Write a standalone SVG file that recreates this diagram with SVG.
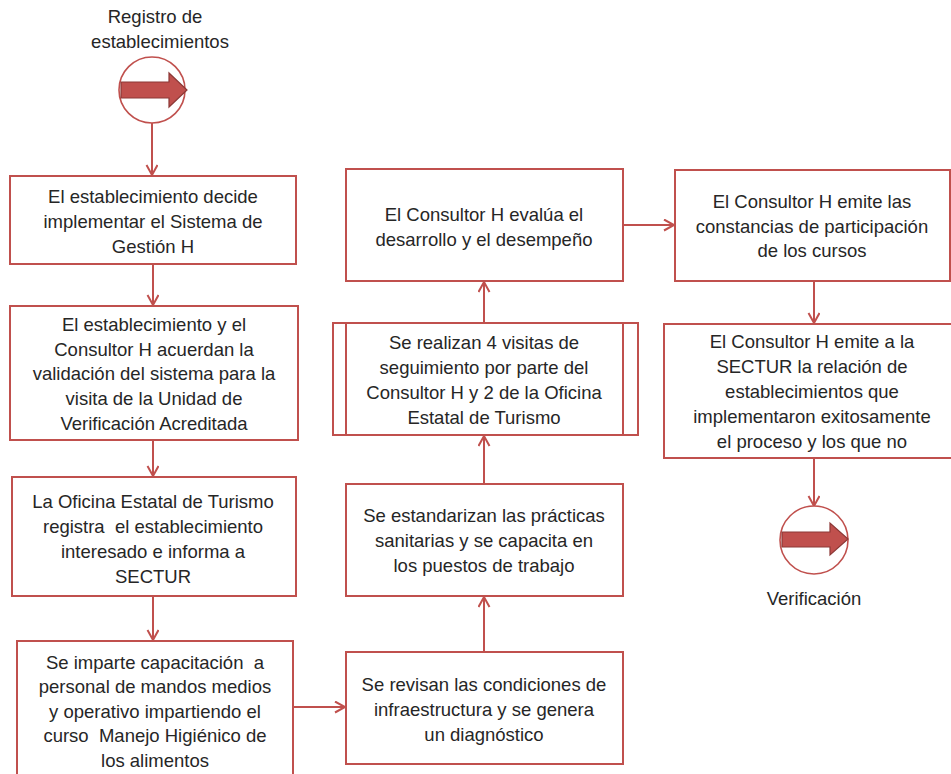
<svg xmlns="http://www.w3.org/2000/svg" width="951" height="774" viewBox="0 0 951 774">
<defs>
<style>
.box{fill:#fff;stroke:#C0504D;stroke-width:2}
.circ{fill:#fff;stroke:#C0504D;stroke-width:1.6}
.blk{fill:#C0504D;stroke:#8C3836;stroke-width:1.2}
.ln{fill:none;stroke:#C0504D;stroke-width:2}
text{font-family:"Liberation Sans",Arial,sans-serif;font-size:18.5px;fill:#262626;text-anchor:middle;white-space:pre}
</style>
<marker id="ah" markerWidth="14" markerHeight="14" refX="11" refY="6" orient="auto" markerUnits="userSpaceOnUse">
<path d="M1,0.5 L11,6 L1,11.5" fill="none" stroke="#C0504D" stroke-width="2"/>
</marker>
</defs>
<rect width="951" height="774" fill="#fff"/>

<g id="connectors">
<line class="ln" x1="152" y1="123" x2="152" y2="175" marker-end="url(#ah)"/>
<line class="ln" x1="153" y1="264" x2="153" y2="305" marker-end="url(#ah)"/>
<line class="ln" x1="153" y1="440" x2="153" y2="476" marker-end="url(#ah)"/>
<line class="ln" x1="153" y1="596" x2="153" y2="640" marker-end="url(#ah)"/>
<line class="ln" x1="293" y1="707" x2="345" y2="707" marker-end="url(#ah)"/>
<line class="ln" x1="484" y1="652" x2="484" y2="597" marker-end="url(#ah)"/>
<line class="ln" x1="484" y1="484" x2="484" y2="436" marker-end="url(#ah)"/>
<line class="ln" x1="484" y1="323" x2="484" y2="282" marker-end="url(#ah)"/>
<line class="ln" x1="623" y1="225" x2="674" y2="225" marker-end="url(#ah)"/>
<line class="ln" x1="814" y1="281" x2="814" y2="323" marker-end="url(#ah)"/>
<line class="ln" x1="814" y1="458" x2="814" y2="506" marker-end="url(#ah)"/>
</g>

<g id="start">
<text x="155" y="23">Registro de</text>
<text x="160" y="48">establecimientos</text>
<circle class="circ" cx="152" cy="90" r="33"/>
<path class="blk" d="M121,82 L169,82 L169,73 L187,90 L169,107 L169,98 L121,98 Z"/>
</g>

<g id="n1">
<rect class="box" x="10" y="176" width="286" height="88"/>
<text x="153" y="203">El establecimiento decide</text>
<text x="153" y="228">implementar el Sistema de</text>
<text x="153" y="253">Gestión H</text>
</g>

<g id="n2">
<rect class="box" x="10" y="306" width="288" height="134"/>
<text x="154" y="331">El establecimiento y el</text>
<text x="154" y="356">Consultor H acuerdan la</text>
<text x="154" y="380">validación del sistema para la</text>
<text x="154" y="405">visita de la Unidad de</text>
<text x="154" y="430">Verificación Acreditada</text>
</g>

<g id="n3">
<rect class="box" x="12" y="477" width="284" height="119"/>
<text x="153" y="508">La Oficina Estatal de Turismo</text>
<text x="153" y="533">registra  el establecimiento</text>
<text x="153" y="558">interesado e informa a</text>
<text x="153" y="583">SECTUR</text>
</g>

<g id="n4">
<rect class="box" x="17" y="641" width="276" height="150"/>
<text x="155" y="669">Se imparte capacitación  a</text>
<text x="155" y="693">personal de mandos medios</text>
<text x="155" y="718">y operativo impartiendo el</text>
<text x="155" y="742">curso  Manejo Higiénico de</text>
<text x="155" y="767">los alimentos</text>
</g>

<g id="n5">
<rect class="box" x="346" y="652" width="277" height="112"/>
<text x="484" y="691">Se revisan las condiciones de</text>
<text x="484" y="716">infraestructura y se genera</text>
<text x="484" y="741">un diagnóstico</text>
</g>

<g id="n6">
<rect class="box" x="346" y="484" width="277" height="112"/>
<text x="484" y="522">Se estandarizan las prácticas</text>
<text x="484" y="547">sanitarias y se capacita en</text>
<text x="484" y="572">los puestos de trabajo</text>
</g>

<g id="n7">
<rect class="box" x="333" y="323" width="305" height="112"/>
<line class="ln" x1="346" y1="323" x2="346" y2="435"/>
<line class="ln" x1="623" y1="323" x2="623" y2="435"/>
<text x="484" y="349">Se realizan 4 visitas de</text>
<text x="484" y="374">seguimiento por parte del</text>
<text x="484" y="399">Consultor H y 2 de la Oficina</text>
<text x="484" y="424">Estatal de Turismo</text>
</g>

<g id="n8">
<rect class="box" x="346" y="169" width="277" height="112"/>
<text x="484" y="221">El Consultor H evalúa el</text>
<text x="484" y="246">desarrollo y el desempeño</text>
</g>

<g id="n9">
<rect class="box" x="675" y="170" width="275" height="111"/>
<text x="812" y="208">El Consultor H emite las</text>
<text x="812" y="233">constancias de participación</text>
<text x="812" y="257">de los cursos</text>
</g>

<g id="n10">
<rect class="box" x="664" y="324" width="290" height="134"/>
<text x="812" y="348">El Consultor H emite a la</text>
<text x="812" y="373">SECTUR la relación de</text>
<text x="812" y="398">establecimientos que</text>
<text x="812" y="423">implementaron exitosamente</text>
<text x="812" y="448">el proceso y los que no</text>
</g>

<g id="end">
<circle class="circ" cx="814" cy="540" r="34"/>
<path class="blk" d="M782,532 L830,532 L830,523 L848,539 L830,555 L830,547 L782,547 Z"/>
<text x="814" y="605">Verificación</text>
</g>
</svg>
